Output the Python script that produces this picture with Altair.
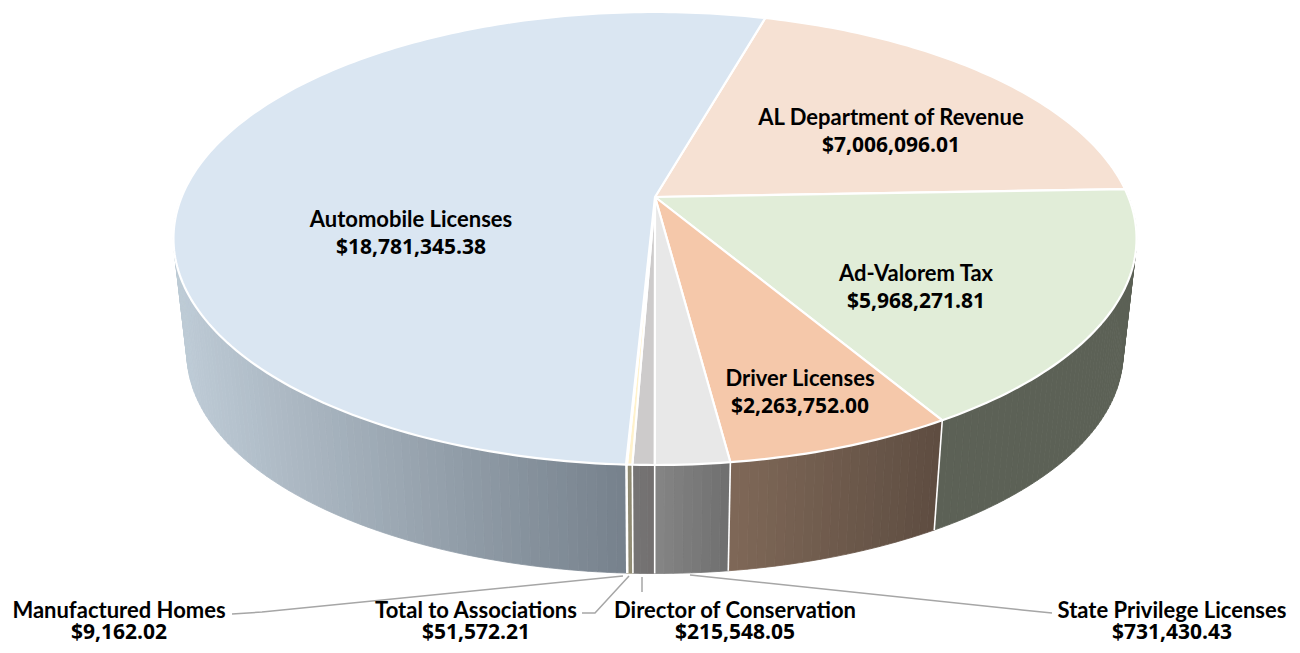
import math
import altair as alt

# ---- values (clockwise from the back of the pie)
categories = ["AL Department of Revenue", "Ad-Valorem Tax", "Driver Licenses",
              "State Privilege Licenses", "Director of Conservation",
              "Total to Associations", "Manufactured Homes", "Automobile Licenses"]
amounts = [7006096.01, 5968271.81, 2263752.00, 731430.43, 215548.05,
           51572.21, 9162.02, 18781345.38]
top_colors = ["#F6E1D3", "#E1EDD8", "#F5C8AA", "#E8E8E8", "#CDCBCB",
              "#FFF2CC", "#FBE8B4", "#DAE6F2"]
wall_left = ["#6C6258", "#5C6156", "#7F6858", "#858585", "#767474",
             "#8F8A72", "#A8A078", "#BECBD6"]
wall_right = ["#6C6258", "#5C6156", "#5E4D41", "#6F6F6F", "#726F6F",
              "#8F8A72", "#A8A078", "#76818C"]
label_texts = ["$7,006,096.01", "$5,968,271.81", "$2,263,752.00", "$731,430.43",
               "$215,548.05", "$51,572.21", "$9,162.02", "$18,781,345.38"]

# ---- perspective model of the tilted disc
CX, CY = 655.0, 197.0
RX, RY = 473.4, 218.9
PERSP = 0.1832
START_DEG = 74.1
BOTTOM_SCALE, BOTTOM_DROP = 0.972, 116.0


def top_point(deg):
    a = math.radians(deg)
    u, v = math.cos(a), -math.sin(a)
    d = 1 - PERSP * v
    return (RX * u / d, RY * v / d)


def to_page(p, bottom=False):
    x, y = p
    if bottom:
        return [CX + x * BOTTOM_SCALE, CY + y * BOTTOM_SCALE + BOTTOM_DROP]
    return [CX + x, CY + y]


def arc(a0, a1, step=1.0):
    n = max(2, int(abs(a1 - a0) / step) + 1)
    return [a0 + (a1 - a0) * i / n for i in range(n + 1)]


def mix(c0, c1, t):
    t = min(1.0, max(0.0, t))
    a = [int(c0[i:i + 2], 16) for i in (1, 3, 5)]
    b = [int(c1[i:i + 2], 16) for i in (1, 3, 5)]
    return "#%02x%02x%02x" % tuple(round(p + (q - p) * t) for p, q in zip(a, b))


def feature(kind, coords, **props):
    return {"type": "Feature", "geometry": {"type": kind, "coordinates": coords},
            "properties": props}


total = sum(amounts)
bounds = [START_DEG]
for amt in amounts:
    bounds.append(bounds[-1] - amt / total * 360.0)

strips, tops, seams = [], [], []
for i, (a0, a1) in enumerate(zip(bounds[:-1], bounds[1:])):
    angles = arc(a0, a1)
    visible = [a for a in angles if -math.sin(math.radians(a)) > -0.12]
    xs = [to_page(top_point(a))[0] for a in visible] or [0, 1]
    x0, x1 = min(xs), max(xs)
    for s0, s1 in zip(angles[:-1], angles[1:]):
        mid = (s0 + s1) / 2
        if -math.sin(math.radians(mid)) < -0.12:
            continue
        mx = to_page(top_point(mid))[0]
        t = (mx - x0) / (x1 - x0) if x1 > x0 else 0.5
        col = mix(wall_left[i], wall_right[i], t)
        ring = [to_page(top_point(s0)), to_page(top_point(s1)),
                to_page(top_point(s1), True), to_page(top_point(s0), True)]
        strips.append(feature("Polygon", [ring + [ring[0]]], col=col))
    seams.append(feature("LineString", [to_page(top_point(a0)), to_page(top_point(a0), True)]))
    ring = [[CX, CY]] + [to_page(top_point(a)) for a in angles] + [[CX, CY]]
    tops.append(feature("Polygon", [ring], col=top_colors[i]))

# ---- leader lines and label anchors (page pixels)
leaders = [
    [[232, 614], [262, 612], [623, 576]],
    [[582, 613], [595, 613], [629, 576]],
    [[642, 577], [642, 592]],
    [[1052, 613], [1022, 610], [690, 575]],
]
leader_features = [feature("LineString", c) for c in leaders]

label_x = [891, 916, 800, 1172, 735, 476, 119, 411]
name_y = [118, 274, 379, 611, 611, 611, 611, 220]
value_y = [146, 302, 407, 633, 633, 633, 633, 248]
name_rows = [{"t": n, "lon": x, "lat": y} for n, x, y in zip(categories, label_x, name_y)]
value_rows = [{"t": v, "lon": x, "lat": y} for v, x, y in zip(label_texts, label_x, value_y)]

walls = alt.Chart(alt.Data(values=strips)).mark_geoshape(strokeWidth=0.8).encode(
    fill=alt.Fill("properties.col:N", scale=None),
    stroke=alt.Stroke("properties.col:N", scale=None),
)
seam_layer = alt.Chart(alt.Data(values=seams)).mark_geoshape(
    filled=False, stroke="#FFFFFF", strokeWidth=1.6)
top_layer = alt.Chart(alt.Data(values=tops)).mark_geoshape(
    stroke="#FFFFFF", strokeWidth=2.2, strokeJoin="round").encode(
    fill=alt.Fill("properties.col:N", scale=None))
leader_layer = alt.Chart(alt.Data(values=leader_features)).mark_geoshape(
    filled=False, stroke="#A6A6A6", strokeWidth=1.5)
name_layer = alt.Chart(alt.Data(values=name_rows)).mark_text(
    font="Lato", fontSize=22, fontWeight="bold", color="#000000",
    align="center", baseline="middle").encode(
    longitude="lon:Q", latitude="lat:Q", text="t:N")
value_layer = alt.Chart(alt.Data(values=value_rows)).mark_text(
    font="Open Sans", fontSize=21, fontWeight="bold", color="#000000",
    align="center", baseline="middle").encode(
    longitude="lon:Q", latitude="lat:Q", text="t:N")

chart = alt.layer(walls, seam_layer, top_layer, leader_layer, name_layer, value_layer).project(
    type="identity", scale=1, translate=[-8, -8]
).properties(
    width=1284, height=637, padding=0, background="#FFFFFF",
    autosize=alt.AutoSizeParams(type="none"),
).configure_view(stroke=None)

chart.save("out.html", embed_options={"renderer": "svg", "actions": False})
